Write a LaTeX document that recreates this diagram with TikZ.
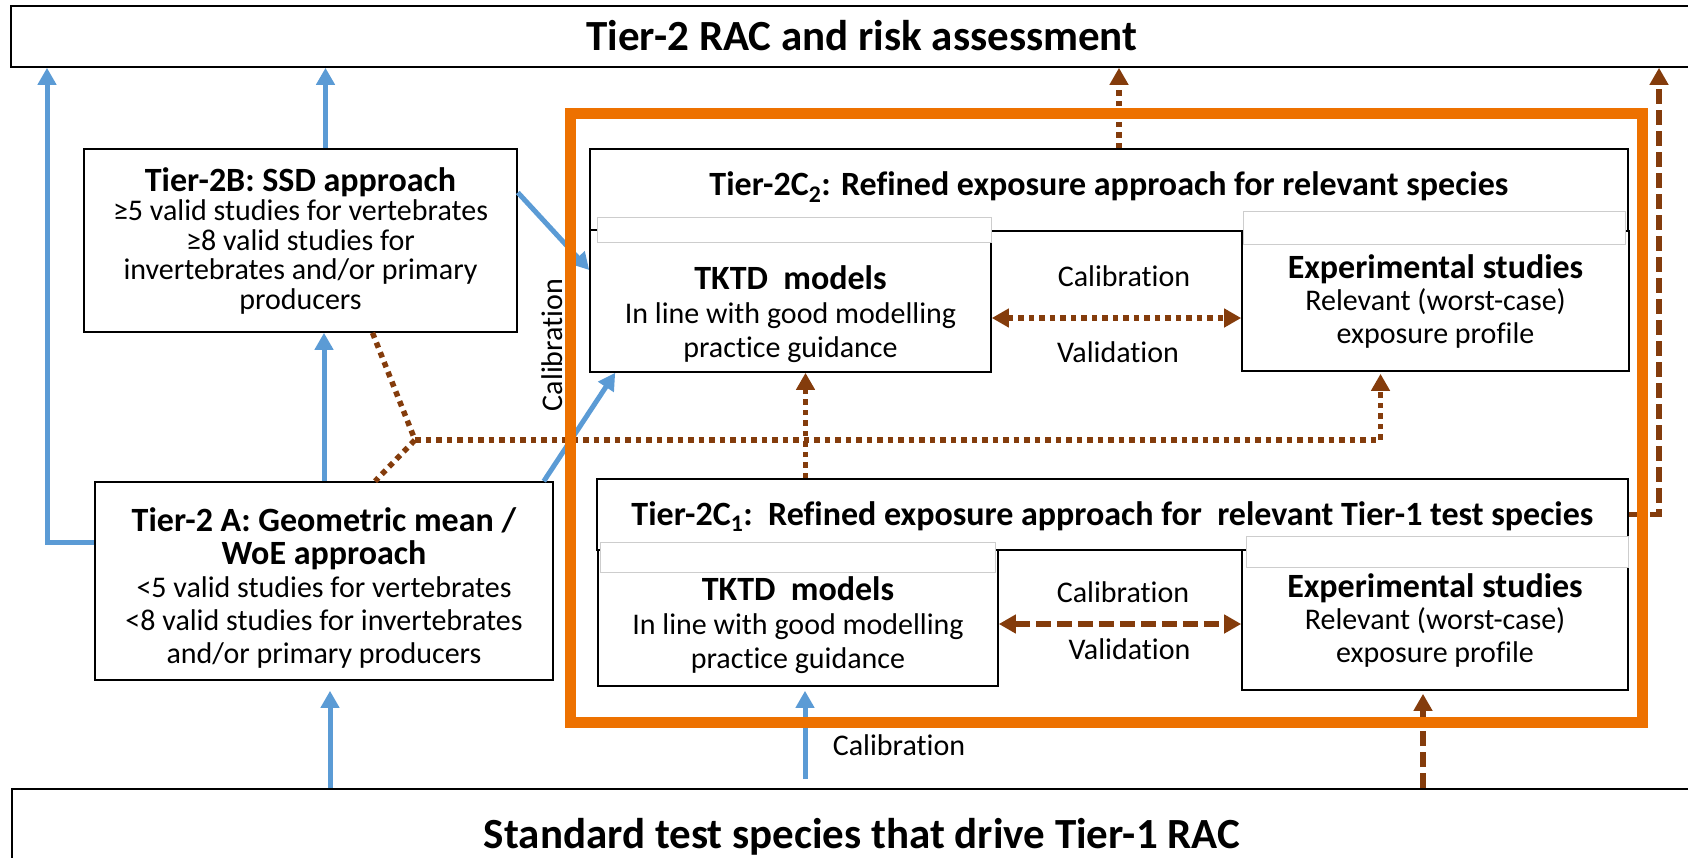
\documentclass[tikz,border=0pt]{standalone}
\usepackage{fontspec}
\setmainfont{Carlito}[Ligatures=CommonOff]
\usetikzlibrary{arrows.meta,calc}
\definecolor{tBlue}{RGB}{91,155,213}
\definecolor{tBrown}{RGB}{132,60,12}
\definecolor{tOrange}{RGB}{237,113,0}
\definecolor{tGray}{RGB}{205,205,205}
\newcommand{\hdfont}{\fontsize{34}{40}\selectfont\bfseries}
\tikzset{
  box/.style={rectangle, draw=black, line width=1.6pt, fill=white, align=center,
              inner sep=0pt, font=\fontsize{30}{33}\selectfont},
  bigbox/.style={box, font=\fontsize{43}{50}\selectfont\bfseries},
  hdbox/.style={box, font=\hdfont},
  txt/.style={align=center, inner sep=0pt, font=\fontsize{30}{33}\selectfont},
  strip/.style={draw=tGray, line width=0.8pt, fill=white},
  lbl/.style={inner sep=0pt, font=\fontsize{30}{33}\selectfont},
  frame/.style={draw=tOrange, line width=11pt},
  blu/.style={draw=tBlue, line width=5pt, -{Triangle[length=17pt,width=18pt]}},
  dots/.style={draw=tBrown, line width=5.5pt, dash pattern=on 5.5pt off 5pt},
  dashes/.style={draw=tBrown, line width=5.5pt, dash pattern=on 15pt off 6pt},
  tip/.style={-{Triangle[length=17pt,width=18pt]}},
  bitip/.style={{Triangle[length=17pt,width=18pt]}-{Triangle[length=17pt,width=18pt]}},
}
\begin{document}
\begin{tikzpicture}[x=1pt,y=-1pt]
  \useasboundingbox (0,0) rectangle (1688,857);
  % outer tiers
  \node[bigbox, minimum width=1702, minimum height=61, text height=30pt, text depth=3pt]
    (rac2) at (862,36.5) {Tier-2 RAC and risk assessment};
  \node[bigbox, minimum width=1700, minimum height=86, text height=40pt, text depth=8pt]
    (std) at (862,832) {Standard test species that drive Tier-1 RAC};
  % tier 2B and 2A
  \node[box, minimum width=433, minimum height=183, font=\fontsize{30}{29.5}\selectfont]
    (t2b) at (300.5,240.5) {{\hdfont Tier-2B: SSD approach}\\
      ≥5 valid studies for vertebrates\\ ≥8 valid studies for\\
      invertebrates and/or primary\\ producers};
  \node[box, minimum width=458, minimum height=198] (t2a) at (324,581) {};
  \node[txt] (t2at) at (324,588) {{\hdfont Tier-2 A: Geometric mean /}\\
      {\hdfont WoE approach}\\ <5 valid studies for vertebrates\\
      <8 valid studies for invertebrates\\ and/or primary producers};
  % tier 2C headers
  \node[hdbox, minimum width=1038, minimum height=82, text height=24pt, text depth=14pt]
    (c2) at (1109,190)
    {Tier-2C\textsubscript{2}: Refined exposure approach for relevant species};
  \node[hdbox, minimum width=1031, minimum height=71, text height=24pt, text depth=3pt]
    (c1) at (1112.5,514.5)
    {Tier-2C\textsubscript{1}:\ \ Refined exposure approach for\ \ relevant Tier-1 test species};
  % models and studies
  \node[box, minimum width=401, minimum height=142] (tk2) at (790.5,301) {};
  \node[box, minimum width=387, minimum height=140, font=\fontsize{30}{32.5}\selectfont]
    (ex2) at (1435.5,301) {{\hdfont Experimental studies}\\
      Relevant (worst-case)\\ exposure profile};
  \node[box, minimum width=400, minimum height=136] (tk1) at (798,618) {};
  \node[box, minimum width=386, minimum height=140, font=\fontsize{30}{32.5}\selectfont]
    (ex1) at (1435,620) {{\hdfont Experimental studies}\\
      Relevant (worst-case)\\ exposure profile};
  \draw[strip] ([xshift=8pt,yshift=12pt]tk2.north west) rectangle ([yshift=-13pt]tk2.north east);
  \draw[strip] ([xshift=2pt,yshift=19pt]ex2.north west) rectangle ([xshift=-4pt,yshift=-14pt]ex2.north east);
  \draw[strip] ([xshift=3pt,yshift=7pt]tk1.north west) rectangle ([xshift=-3pt,yshift=-23pt]tk1.north east);
  \draw[strip] ([xshift=5pt,yshift=13pt]ex1.north west) rectangle ([yshift=-18pt]ex1.north east);
  \node[txt, font=\fontsize{30}{34}\selectfont] (tk2t) at (790.5,314)
    {{\hdfont TKTD\ \ models}\\ In line with good modelling\\ practice guidance};
  \node[txt, font=\fontsize{30}{34}\selectfont] (tk1t) at (798,625)
    {{\hdfont TKTD\ \ models}\\ In line with good modelling\\ practice guidance};
  % blue flows
  \coordinate (lft) at (47,542);
  \draw[blu] (t2a.west |- lft) -- (lft) -- (lft |- rac2.south);
  \draw[blu] ([xshift=25pt]t2b.north) -- ([xshift=25pt]t2b.north |- rac2.south);
  \draw[blu] (t2a.north) -- (t2a.north |- t2b.south);
  \draw[blu, shorten >=10pt] ([xshift=6pt]t2a.south |- std.north) -- ([xshift=6pt]t2a.south);
  \draw[blu] ([yshift=48pt]t2b.east) -- ([yshift=31pt]tk2.west);
  \draw[blu] ([xshift=-10pt]t2a.north east) -- ([xshift=26pt]tk2.south west);
  \draw[blu, shorten <=9pt, shorten >=4pt] ([xshift=7pt]tk1.south |- std.north) -- ([xshift=7pt]tk1.south);
  % brown flows
  \coordinate (jn) at (415,440);
  \draw[dots] ([xshift=72pt]t2b.south) -- (jn) -- ([xshift=51pt]t2a.north);
  \draw[dots, tip, shorten >=2pt] (jn) -| ([xshift=-55pt]ex2.south);
  \draw[dots, tip] ([xshift=10pt]c2.north) -- ([xshift=10pt]c2.north |- rac2.south);
  \draw[dots, tip] ([xshift=15pt]tk2.south |- c1.north) -- ([xshift=15pt]tk2.south);
  \draw[dots, bitip] ([yshift=-17pt]tk2.east) -- ([yshift=-17pt]tk2.east -| ex2.west);
  \draw[dashes, bitip] ([yshift=-6pt]tk1.east) -- ([yshift=-6pt]tk1.east -| ex1.west);
  \coordinate (rgt) at (1659,514.5);
  \draw[dashes, tip] (c1.east) -- (rgt) -- (rgt |- rac2.south);
  \draw[dashes, tip, shorten >=3pt] ([xshift=-12pt]ex1.south |- std.north) -- ([xshift=-12pt]ex1.south);
  % tier 2C frame
  \draw[frame] (570,113) rectangle (1642,722);
  % labels
  \node[lbl, rotate=90] (calv) at (552,345) {Calibration};
  \node[lbl] (cal2) at (1124,276.5) {Calibration};
  \node[lbl] (val2) at (1118,352.5) {Validation};
  \node[lbl] (cal1) at (1123,592.5) {Calibration};
  \node[lbl] (val1) at (1129.5,649.5) {Validation};
  \node[lbl] (calb) at (899,745) {Calibration};
\end{tikzpicture}
\end{document}
